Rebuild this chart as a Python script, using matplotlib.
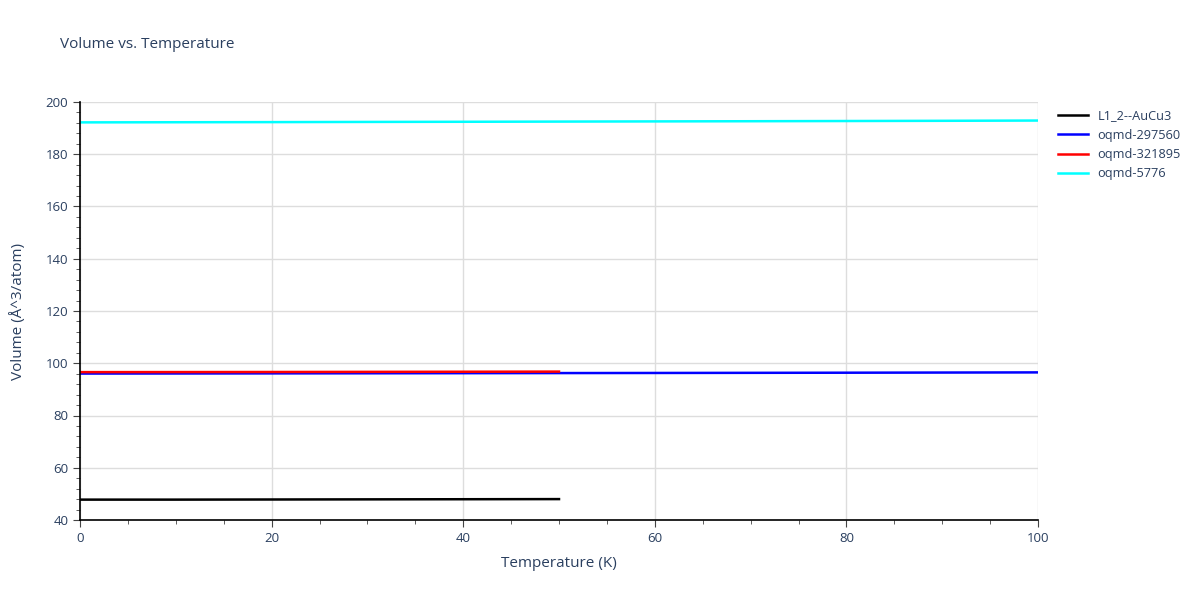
import matplotlib.pyplot as plt
from matplotlib.ticker import MultipleLocator

temp_full = [0, 10, 20, 30, 40, 50, 60, 70, 80, 90, 100]
temp_half = [0, 10, 20, 30, 40, 50]

vol_aucu3 = [47.8, 47.8, 47.85, 47.9, 47.95, 48.0]
vol_297560 = [96.05, 96.08, 96.12, 96.16, 96.2, 96.24, 96.28, 96.33, 96.38, 96.44, 96.5]
vol_321895 = [96.6, 96.62, 96.65, 96.7, 96.75, 96.8]
vol_5776 = [192.2, 192.25, 192.3, 192.37, 192.43, 192.5, 192.57, 192.64, 192.72, 192.8, 192.9]

series = [
    ("L1_2--AuCu3", temp_half, vol_aucu3, "black"),
    ("oqmd-297560", temp_full, vol_297560, "blue"),
    ("oqmd-321895", temp_half, vol_321895, "red"),
    ("oqmd-5776", temp_full, vol_5776, "cyan"),
]

txt = "#2a3f5f"
plt.rcParams['font.family'] = ['Open Sans', 'DejaVu Sans']

fig = plt.figure(figsize=(12, 6), dpi=100)
ax = fig.add_axes([80 / 1200, 80 / 600, 958 / 1200, 418 / 600])

for name, x, y, c in series:
    ax.plot(x, y, color=c, lw=1.8, label=name)

ax.set_xlim(0, 100)
ax.set_ylim(40, 200)
ax.xaxis.set_major_locator(MultipleLocator(20))
ax.xaxis.set_minor_locator(MultipleLocator(5))
ax.yaxis.set_major_locator(MultipleLocator(20))
ax.yaxis.set_minor_locator(MultipleLocator(4))
ax.grid(True, which='major', color='#dddddd', lw=1)
ax.set_axisbelow(True)
for s in ['top', 'right']:
    ax.spines[s].set_visible(False)
for s in ['left', 'bottom']:
    ax.spines[s].set_color('black')
    ax.spines[s].set_linewidth(1.2)
ax.tick_params(which='major', length=5, color='#444444', labelcolor=txt, labelsize=9.5)
ax.tick_params(which='minor', length=3, color='#444444')

ax.set_xlabel("Temperature (K)", color=txt, fontsize=11, labelpad=8)
ax.set_ylabel("Volume (Å^3/atom)", color=txt, fontsize=11, labelpad=14)
fig.text(60 / 1200, 1 - 45 / 600, "Volume vs. Temperature", color=txt, fontsize=11, va='center')

leg = ax.legend(loc='upper left', bbox_to_anchor=(1.009, 1.01), frameon=False,
                fontsize=9.2, handlelength=2.3, labelspacing=0.5)
for t in leg.get_texts():
    t.set_color(txt)

fig.savefig("out.png", dpi=100)
